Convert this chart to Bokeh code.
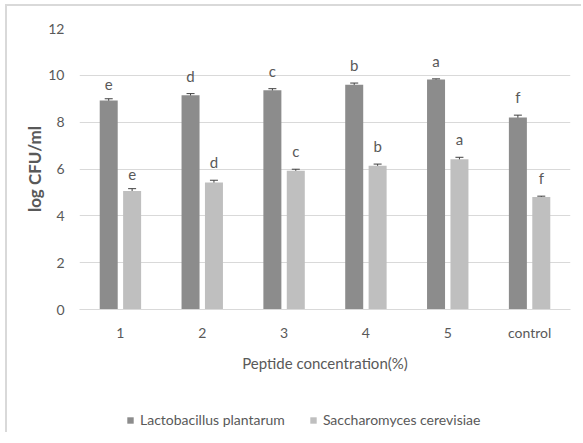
from bokeh.plotting import figure
from bokeh.layouts import column
from bokeh.models import ColumnDataSource, Whisker, LabelSet, Legend, LegendItem, FactorRange
from bokeh.core.properties import value
from bokeh.transform import dodge
from bokeh.embed import file_html
from bokeh.resources import INLINE

categories = ["1", "2", "3", "4", "5", "control"]
lacto = [8.93, 9.15, 9.36, 9.60, 9.82, 8.20]
lacto_err = [0.07, 0.07, 0.07, 0.07, 0.03, 0.10]
lacto_letters = ["e", "d", "c", "b", "a", "f"]
sacch = [5.06, 5.42, 5.92, 6.14, 6.42, 4.80]
sacch_err = [0.10, 0.10, 0.07, 0.07, 0.08, 0.04]
sacch_letters = ["e", "d", "c", "b", "a", "f"]
series_names = ["Lactobacillus plantarum", "Saccharomyces cerevisiae"]
y_ticks = [0, 2, 4, 6, 8, 10, 12]

FONT = "Lato"
TXT = "#595959"
DARK = "#8c8c8c"
LIGHT = "#bfbfbf"
BORDER = "2px solid #d9d9d9"

src_l = ColumnDataSource(dict(x=categories, top=lacto,
                              upper=[v + e for v, e in zip(lacto, lacto_err)],
                              lower=[v - e for v, e in zip(lacto, lacto_err)],
                              txt=lacto_letters))
src_s = ColumnDataSource(dict(x=categories, top=sacch,
                              upper=[v + e for v, e in zip(sacch, sacch_err)],
                              lower=[v - e for v, e in zip(sacch, sacch_err)],
                              txt=sacch_letters))

p = figure(x_range=FactorRange(*categories, range_padding=0), y_range=(0, 12),
           width=576, height=378, output_backend="svg", toolbar_location=None,
           min_border_left=72, min_border_right=13, min_border_top=22, min_border_bottom=75)
p.x_range.factor_padding = 0

OFF = 0.143
W = 0.22
p.vbar(x=dodge("x", -OFF, range=p.x_range), top="top", width=W, source=src_l,
       fill_color=DARK, line_color=None)
p.vbar(x=dodge("x", OFF, range=p.x_range), top="top", width=W, source=src_s,
       fill_color=LIGHT, line_color=None)

for src, off in ((src_l, -OFF), (src_s, OFF)):
    wk = Whisker(base=dodge("x", off, range=p.x_range), upper="upper", lower="lower",
                 source=src, line_color="#404040", line_width=1)
    wk.upper_head.size = 8
    wk.lower_head.size = 8
    wk.upper_head.line_color = "#404040"
    wk.lower_head.line_color = "#404040"
    p.add_layout(wk)
    lab = LabelSet(x=dodge("x", off, range=p.x_range), y="upper", text="txt", source=src,
                   y_offset=9, text_align="center", text_baseline="bottom",
                   text_font=value(FONT), text_font_size=value("15px"), text_color=TXT)
    p.add_layout(lab)

p.outline_line_color = None
p.xgrid.grid_line_color = None
p.ygrid.grid_line_color = "#d9d9d9"
p.ygrid.grid_line_width = 1
p.yaxis.ticker = y_ticks
p.yaxis.axis_line_color = None
p.xaxis.axis_line_color = "#d9d9d9"
for ax in (p.xaxis, p.yaxis):
    ax.major_tick_line_color = None
    ax.minor_tick_line_color = None
    ax.major_tick_out = 0
    ax.major_tick_in = 0
    ax.major_label_text_font = FONT
    ax.major_label_text_font_size = "14px"
    ax.major_label_text_color = TXT
    ax.axis_label_text_font = FONT
    ax.axis_label_text_color = TXT
p.yaxis.axis_label = "log CFU/ml"
p.yaxis.axis_label_text_font_style = "bold"
p.yaxis.axis_label_text_font_size = "17px"
p.yaxis.major_label_standoff = 15
p.yaxis.axis_label_standoff = 0
p.xaxis.axis_label = "Peptide concentration(%)"
p.xaxis.axis_label_text_font_style = "normal"
p.xaxis.axis_label_text_font_size = "15px"
p.xaxis.major_label_standoff = 14
p.xaxis.axis_label_standoff = 10
p.background_fill_color = "white"
p.border_fill_color = "white"
p.styles = {"border-top": BORDER, "border-left": BORDER, "margin-left": "5px", "margin-top": "4px"}

# legend panel
p2 = figure(width=576, height=50, output_backend="svg", toolbar_location=None,
            x_range=(0, 1), y_range=(0, 1), min_border=0)
p2.axis.visible = False
p2.grid.grid_line_color = None
p2.outline_line_color = None
d1 = p2.vbar(x=[-5], top=[-5], width=0.1, fill_color=DARK, line_color=None)
d2 = p2.vbar(x=[-5], top=[-5], width=0.1, fill_color=LIGHT, line_color=None)
legend = Legend(items=[LegendItem(label=series_names[0], renderers=[d1]),
                       LegendItem(label=series_names[1], renderers=[d2])],
                orientation="horizontal", location=(47, 4),
                label_text_font=FONT, label_text_font_size="14px", label_text_color=TXT,
                glyph_width=8, glyph_height=8, spacing=24, label_standoff=6,
                border_line_color=None, background_fill_alpha=0, padding=0, margin=0)
p2.add_layout(legend, "center")
p2.styles = {"border-left": BORDER, "margin-left": "5px"}

layout = column(p, p2, spacing=0)
open("out.html", "w").write(file_html(layout, INLINE))
